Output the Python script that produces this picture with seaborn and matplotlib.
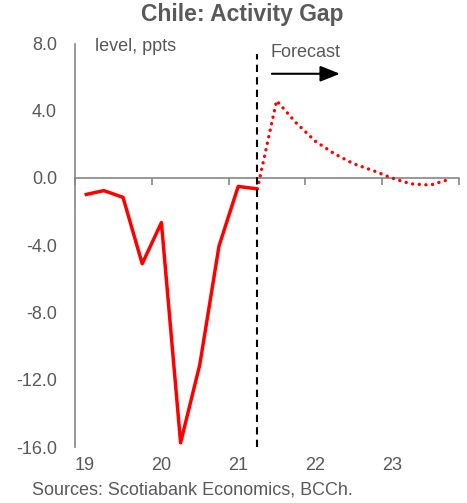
import matplotlib
matplotlib.use("Agg")
import matplotlib.pyplot as plt
import seaborn as sns
import pandas as pd
import numpy as np

# Quarterly activity gap, 2019Q1 - 2023Q4 (level, ppts)
quarters = [f"{y}Q{q}" for y in range(2019, 2024) for q in range(1, 5)]
actual = [-1.0, -0.75, -1.15, -5.1, -2.65, -15.75, -11.1, -4.05, -0.5, -0.65]
forecast = [-0.65, 4.6, 3.3, 2.2, 1.45, 0.85, 0.45, 0.0, -0.35, -0.42, -0.08]
year_labels = ["19", "20", "21", "22", "23"]
y_ticks = [8, 4, 0, -4, -8, -12, -16]

hist_df = pd.DataFrame({"x": np.arange(len(actual)), "gap": actual})
fc_start = len(actual) - 1
fc_df = pd.DataFrame({"x": np.arange(fc_start, fc_start + len(forecast)), "gap": forecast})

sns.set_theme(style="white")
plt.rcParams["font.family"] = ["Liberation Sans", "DejaVu Sans"]

grey_txt = "#595959"
grey_ax = "#868686"
fs = 13

fig = plt.figure(figsize=(4.67, 5.03), dpi=100)
ax = fig.add_axes([75 / 467, 1 - 447 / 503, (459 - 75) / 467, (447 - 43.5) / 503])

sns.lineplot(data=hist_df, x="x", y="gap", ax=ax, color="#FF0000", linewidth=2.5,
             solid_capstyle="butt")
sns.lineplot(data=fc_df, x="x", y="gap", ax=ax, color="#FF0000", linewidth=2.4,
             linestyle=(0, (0.05, 1.95)), dash_capstyle="round")

ax.set_xlim(-0.5, len(quarters) - 0.5)
ax.set_ylim(-16, 8)

# y axis: left spine, inward ticks
ax.set_yticks(y_ticks)
ax.set_yticklabels([f"{v:.1f}" for v in y_ticks])
for s in ["top", "right", "bottom"]:
    ax.spines[s].set_visible(False)
ax.spines["left"].set_color(grey_ax)
ax.spines["left"].set_linewidth(1.2)
ax.tick_params(axis="y", direction="in", length=5, width=1.2, color=grey_ax,
               labelsize=fs, labelcolor=grey_txt, pad=13)

# year labels below the plot, centred on each first quarter
ax.set_xticks(np.arange(0, len(quarters), 4))
ax.set_xticklabels(year_labels)
ax.tick_params(axis="x", length=0, labelsize=fs, labelcolor=grey_txt, pad=7)
ax.set_xlabel("")
ax.set_ylabel("")

# zero line acting as category axis with year boundary ticks
zero_frac = (0 - (-16)) / 24
sec = ax.secondary_xaxis(zero_frac)
sec.set_xticks(np.arange(-0.5, len(quarters), 4))
sec.set_xticklabels([])
for sp in sec.spines.values():
    sp.set_color(grey_ax)
    sp.set_linewidth(1.2)
sec.tick_params(axis="x", direction="in", length=5, width=1.2, color=grey_ax)

# forecast divider
ax.vlines(fc_start, -16, 7.4, colors="black", linestyles=(0, (3.5, 2.5)), linewidth=1.5)
ax.annotate("", xy=(13.3, 6.2), xytext=(9.75, 6.2),
            arrowprops=dict(arrowstyle="-|>,head_length=1.0,head_width=0.4",
                            color="black", lw=1.5, shrinkA=0, shrinkB=0))
ax.text(9.7, 7.45, "Forecast", fontsize=fs, color=grey_txt, ha="left", va="center")
ax.text(0.55, 7.8, "level, ppts", fontsize=fs, color=grey_txt, ha="left", va="center")

fig.text(242 / 467, 1 - 15 / 503, "Chile: Activity Gap", fontsize=16.5, fontweight="bold",
         color=grey_txt, ha="center", va="center")
fig.text(32 / 467, 1 - 490 / 503, "Sources: Scotiabank Economics, BCCh.", fontsize=fs,
         color=grey_txt, ha="left", va="center")

fig.savefig("out.png", dpi=100)
